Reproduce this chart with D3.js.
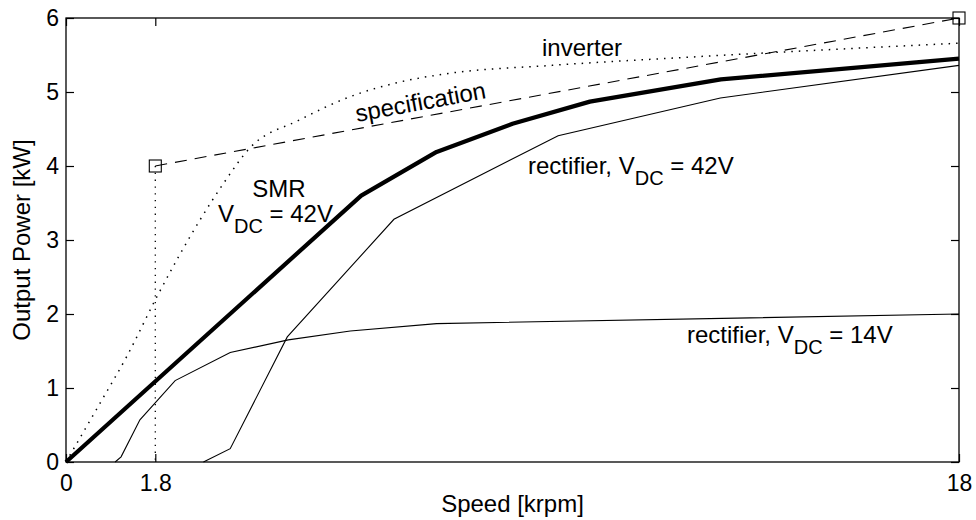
<!DOCTYPE html>
<html>
<head>
<meta charset="utf-8">
<script src="https://cdn.jsdelivr.net/npm/d3@7"></script>
<style>
  body { margin: 0; background: #fff; }
  text { font-family: "Liberation Sans", Arial, Helvetica, sans-serif; fill: #000; }
</style>
</head>
<body>
<div class="chart-box"></div>
<script>
// ---------------------------//
//            DATA            //
// ---------------------------//
const smrSpeed = [0, 5.95, 7.47, 9.0, 10.56, 13.2, 18];
const smrPower = [0, 3.6, 4.19, 4.57, 4.87, 5.17, 5.45];

const rect42Speed = [2.77, 3.31, 4.46, 6.61, 9.92, 13.19, 18];
const rect42Power = [0, 0.18, 1.69, 3.28, 4.41, 4.92, 5.36];

const rect14Speed = [0.99, 1.11, 1.49, 2.2, 3.31, 4.48, 5.73, 7.47, 18];
const rect14Power = [0, 0.07, 0.57, 1.10, 1.48, 1.65, 1.77, 1.87, 2.0];

const invSpeed = [0, 0.69, 1.22, 1.83, 2.7, 3.2, 3.7, 4.7, 5.7, 6.7, 7.7, 9.8, 12.8, 18];
const invPower = [0, 0.8, 1.42, 2.23, 3.27, 3.79, 4.24, 4.62, 4.93, 5.13, 5.25, 5.36, 5.48, 5.66];

const specSpeed = [1.8, 18];
const specPower = [4.0, 6.0];

const xTicks = [0, 1.8, 18];
const xTickLabels = ["0", "1.8", "18"];
const yTicks = [0, 1, 2, 3, 4, 5, 6];

const WIDTH = 976, HEIGHT = 520;
const MARGIN = { left: 66, right: 17, top: 18, bottom: 58 };

const svg = d3.select(".chart-box").append("svg")
    .attr("width", WIDTH)
    .attr("height", HEIGHT);

// ---------------------------//
//       AXIS AND SCALE       //
// ---------------------------//
const xScale = d3.scaleLinear().domain([0, 18]).range([MARGIN.left, WIDTH - MARGIN.right]);
const yScale = d3.scaleLinear().domain([0, 6]).range([HEIGHT - MARGIN.bottom, MARGIN.top]);

const zip = (xs, ys) => xs.map((x, i) => [x, ys[i]]);
const line = d3.line().x(d => xScale(d[0])).y(d => yScale(d[1]));
const smooth = d3.line().x(d => xScale(d[0])).y(d => yScale(d[1])).curve(d3.curveMonotoneX);

// ticks (inside), mirrored on all four sides
svg.append("g")
    .attr("transform", `translate(0,${yScale(0)})`)
    .call(d3.axisBottom(xScale).tickValues(xTicks).tickFormat((d, i) => xTickLabels[i])
        .tickSizeInner(-8).tickSizeOuter(0).tickPadding(10))
    .call(g => g.select(".domain").remove())
    .call(g => g.selectAll("text").style("font-size", "23px").attr("dy", "0.82em"));

svg.append("g")
    .attr("transform", `translate(0,${yScale(6)})`)
    .call(d3.axisTop(xScale).tickValues(xTicks).tickFormat("").tickSizeInner(-8).tickSizeOuter(0))
    .call(g => g.select(".domain").remove());

svg.append("g")
    .attr("transform", `translate(${xScale(0)},0)`)
    .call(d3.axisLeft(yScale).tickValues(yTicks).tickFormat(d3.format("d"))
        .tickSizeInner(-8).tickSizeOuter(0).tickPadding(7))
    .call(g => g.select(".domain").remove())
    .call(g => g.selectAll("text").style("font-size", "23px"));

svg.append("g")
    .attr("transform", `translate(${xScale(18)},0)`)
    .call(d3.axisRight(yScale).tickValues(yTicks).tickFormat("").tickSizeInner(-8).tickSizeOuter(0))
    .call(g => g.select(".domain").remove());

svg.selectAll(".tick line").attr("stroke", "#000").attr("stroke-width", 1.2);

// frame
svg.append("rect")
    .attr("x", xScale(0)).attr("y", yScale(6))
    .attr("width", xScale(18) - xScale(0))
    .attr("height", yScale(0) - yScale(6))
    .attr("fill", "none").attr("stroke", "#000").attr("stroke-width", 1.3);

// axis labels
svg.append("text")
    .attr("x", (xScale(0) + xScale(18)) / 2)
    .attr("y", 512)
    .attr("text-anchor", "middle")
    .style("font-size", "24px")
    .text("Speed [krpm]");

svg.append("text")
    .attr("transform", `translate(30,${(yScale(0) + yScale(6)) / 2}) rotate(-90)`)
    .attr("text-anchor", "middle")
    .style("font-size", "24px")
    .text("Output Power [kW]");

// ---------------------------//
//            LINES           //
// ---------------------------//
const plot = svg.append("g");

// specification: vertical dotted drop and dashed line
plot.append("path")
    .attr("d", line([[specSpeed[0], specPower[0]], [specSpeed[0], 0]]))
    .attr("fill", "none").attr("stroke", "#000").attr("stroke-width", 1.3)
    .attr("stroke-dasharray", "1.3,5.5");

plot.append("path")
    .attr("d", line(zip(specSpeed, specPower)))
    .attr("fill", "none").attr("stroke", "#000").attr("stroke-width", 1.1)
    .attr("stroke-dasharray", "12,8");

plot.selectAll(".spec-marker")
    .data(zip(specSpeed, specPower))
    .enter().append("rect")
    .attr("x", d => xScale(d[0]) - 6)
    .attr("y", d => yScale(d[1]) - 6)
    .attr("width", 12).attr("height", 12)
    .attr("fill", "none").attr("stroke", "#000").attr("stroke-width", 1.1);

// inverter
plot.append("path")
    .attr("d", smooth(zip(invSpeed, invPower)))
    .attr("fill", "none").attr("stroke", "#000").attr("stroke-width", 1.5)
    .attr("stroke-dasharray", "1.5,6");

// rectifier 14V
plot.append("path")
    .attr("d", line(zip(rect14Speed, rect14Power)))
    .attr("fill", "none").attr("stroke", "#000").attr("stroke-width", 1.1);

// rectifier 42V
plot.append("path")
    .attr("d", line(zip(rect42Speed, rect42Power)))
    .attr("fill", "none").attr("stroke", "#000").attr("stroke-width", 1.1);

// SMR
plot.append("path")
    .attr("d", line(zip(smrSpeed, smrPower)))
    .attr("fill", "none").attr("stroke", "#000").attr("stroke-width", 4.2)
    .attr("stroke-linejoin", "round");

// ---------------------------//
//          ANNOTATIONS       //
// ---------------------------//
const fs = "24px";

svg.append("text").attr("x", 542).attr("y", 56).style("font-size", fs).text("inverter");

const specAngle = Math.atan2(yScale(specPower[1]) - yScale(specPower[0]),
                             xScale(specSpeed[1]) - xScale(specSpeed[0])) * 180 / Math.PI;
svg.append("text")
    .attr("transform", `translate(422,110) rotate(${specAngle})`)
    .attr("text-anchor", "middle")
    .style("font-size", fs)
    .text("specification");

svg.append("text").attr("x", 279).attr("y", 197).attr("text-anchor", "middle")
    .style("font-size", fs).text("SMR");

function vdcLabel(x, y, tail) {
    const t = svg.append("text").attr("x", x).attr("y", y).style("font-size", fs);
    t.append("tspan").text(tail[0]);
    t.append("tspan").attr("dy", 11).style("font-size", "20px").text("DC");
    t.append("tspan").attr("dy", -11).text(tail[1]);
}

vdcLabel(218, 222, ["V", " = 42V"]);
vdcLabel(528, 174, ["rectifier, V", " = 42V"]);
vdcLabel(687, 343, ["rectifier, V", " = 14V"]);
</script>
</body>
</html>
